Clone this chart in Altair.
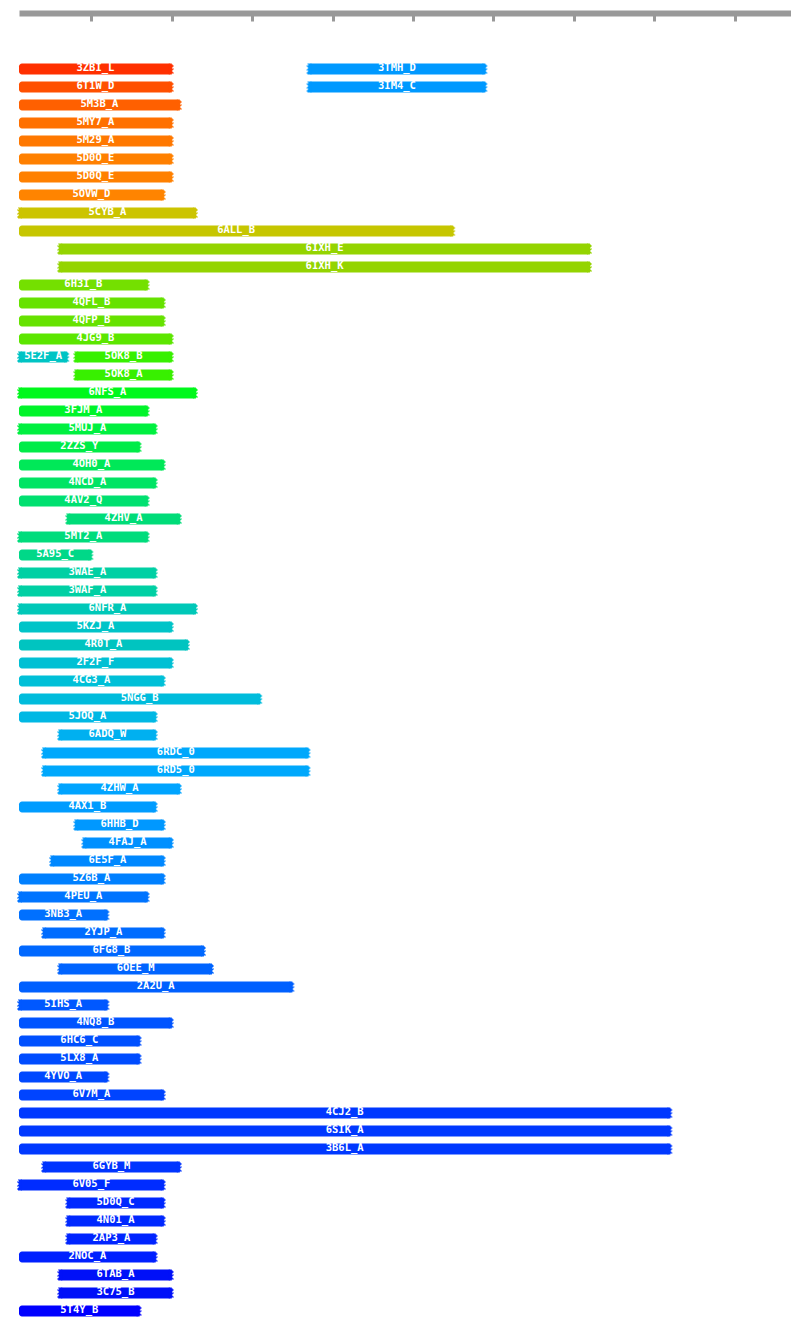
import altair as alt
import pandas as pd

# ---- data ----
LABELS = [
    "3ZBI_L", "3TMH_D", "6T1W_D", "3IM4_C", "5M3B_A", "5MY7_A", "5M29_A", "5D0O_E", "5D0Q_E",
    "5OVW_D", "5CYB_A", "6ALL_B", "6IXH_E", "6IXH_K", "6H3I_B", "4QFL_B", "4QFP_B", "4JG9_B",
    "5E2F_A", "5OK8_B", "5OK8_A", "6NFS_A", "3FJM_A", "5MUJ_A", "2ZZS_Y", "4OH0_A", "4NCD_A",
    "4AV2_Q", "4ZHV_A", "5MT2_A", "5A95_C", "3WAE_A", "3WAF_A", "6NFR_A", "5KZJ_A", "4R0T_A",
    "2F2F_F", "4CG3_A", "5NGG_B", "5JOQ_A", "6ADQ_W", "6RDC_0", "6RD5_0", "4ZHW_A", "4AX1_B",
    "6HHB_D", "4FAJ_A", "6E5F_A", "5Z6B_A", "4PEU_A", "3NB3_A", "2YJP_A", "6FG8_B", "6OEE_M",
    "2A2U_A", "5IHS_A", "4NQ8_B", "6HC6_C", "5LX8_A", "4YVO_A", "6V7M_A", "4CJ2_B", "6SIK_A",
    "3B6L_A", "6GYB_M", "6V05_F", "5D0Q_C", "4N01_A", "2AP3_A", "2NOC_A", "6TAB_A", "3C75_B",
    "5T4Y_B",
]
ROWS = [
    1, 1, 2, 2, 3, 4, 5, 6, 7,
    8, 9, 10, 11, 12, 13, 14, 15, 16,
    17, 17, 18, 19, 20, 21, 22, 23, 24,
    25, 26, 27, 28, 29, 30, 31, 32, 33,
    34, 35, 36, 37, 38, 39, 40, 41, 42,
    43, 44, 45, 46, 47, 48, 49, 50, 51,
    52, 53, 54, 55, 56, 57, 58, 59, 60,
    61, 62, 63, 64, 65, 66, 67, 68, 69,
    70,
]
STARTS = [
    10, 370, 10, 370, 10, 10, 10, 10, 10,
    10, 10, 10, 60, 60, 10, 10, 10, 10,
    10, 80, 80, 10, 10, 10, 10, 10, 10,
    10, 70, 10, 10, 10, 10, 10, 10, 10,
    10, 10, 10, 10, 60, 40, 40, 60, 10,
    80, 90, 50, 10, 10, 10, 40, 10, 60,
    10, 10, 10, 10, 10, 10, 10, 10, 10,
    10, 40, 10, 70, 70, 70, 10, 60, 60,
    10,
]
ENDS = [
    200, 590, 200, 590, 210, 200, 200, 200, 200,
    190, 230, 550, 720, 720, 170, 190, 190, 200,
    70, 200, 200, 230, 170, 180, 160, 190, 180,
    170, 210, 170, 100, 180, 180, 230, 200, 220,
    200, 190, 310, 180, 180, 370, 370, 210, 180,
    190, 200, 190, 190, 170, 120, 190, 240, 250,
    350, 120, 200, 160, 160, 120, 190, 820, 820,
    820, 210, 190, 190, 190, 180, 180, 200, 200,
    160,
]
# 1 = torn (partial) left edge, 0 = rounded full N-terminus
LEFT_TORN = [
    0, 1, 0, 1, 0, 0, 0, 0, 0,
    0, 1, 0, 1, 1, 0, 0, 0, 0,
    1, 1, 1, 1, 0, 1, 0, 0, 0,
    0, 1, 1, 0, 1, 1, 1, 0, 0,
    0, 0, 0, 0, 1, 1, 1, 1, 0,
    1, 1, 1, 0, 1, 0, 1, 0, 1,
    0, 1, 0, 0, 0, 0, 0, 0, 0,
    0, 1, 1, 1, 1, 1, 0, 1, 1,
    0,
]
COLORS = [
    "#ff3000", "#0099ff", "#ff5000", "#0099ff", "#ff6000", "#ff7000", "#ff7800", "#ff8000", "#ff8000",
    "#ff8400", "#ccc400", "#c6c600", "#94d400", "#94d400", "#74e000", "#66e200", "#66e200", "#5ce600",
    "#00c4c4", "#38f000", "#38f000", "#00f81c", "#00f42a", "#00f040", "#00ec48", "#00e858", "#00e464",
    "#00e070", "#00dc78", "#00dc7c", "#00d888", "#00d0a4", "#00d0a4", "#00c8b8", "#00c4c8", "#00c4c0",
    "#00c0d4", "#00c0d8", "#00bcdc", "#00b8e4", "#00b0f0", "#00a8fc", "#00a8fc", "#00a4ff", "#009cff",
    "#0098ff", "#0090ff", "#0088ff", "#0080ff", "#0074ff", "#0070ff", "#006cff", "#0068ff", "#0064ff",
    "#0060ff", "#0058ff", "#0054ff", "#0050ff", "#004cff", "#0048ff", "#0044ff", "#0038ff", "#0038ff",
    "#0038ff", "#0034ff", "#002cff", "#0028ff", "#0028ff", "#0024ff", "#0020ff", "#0010f8", "#0010f8",
    "#0000ff",
]
TICKS = [100, 200, 300, 400, 500, 600, 700, 800, 900]
X_DOMAIN = [10, 970]

df = pd.DataFrame({
    "label": LABELS, "row": ROWS, "start": STARTS, "end": ENDS, "torn": LEFT_TORN,
})
df["mid"] = (df["start"] + df["end"]) / 2


def comb_path(ext, sign):
    """Torn-edge glyph in the -1..1 box (11px tall at size 121)."""
    u = 5.5
    pts = [(-3 * sign, -5.5)]
    for i, e in enumerate(ext):
        y0 = -5.5 + i
        pts += [(sign * e, y0), (sign * e, y0 + 1)]
    pts.append((-3 * sign, 5.5))
    return "M" + " L".join(f"{x / u:.3f},{y / u:.3f}" for x, y in pts) + " Z"


RIGHT_EDGE = comb_path([0, 1, 2, 1, 0, 2, 1, 0, 1, 2, 0], 1)
LEFT_EDGE = comb_path([1, 0, 2, 1, 0, 1, 2, 0, 1, 2, 1], -1)

xscale = alt.Scale(domain=X_DOMAIN, nice=False, zero=False)
yenc = alt.Y("row:O", axis=None, scale=alt.Scale(paddingInner=0.39, paddingOuter=0.195))
cenc = alt.Color("label:N", scale=alt.Scale(domain=LABELS, range=COLORS), legend=None)

ticks_df = pd.DataFrame({"t": TICKS})
top = alt.Chart(ticks_df).mark_rule(opacity=0).encode(
    x=alt.X("t:Q", scale=xscale, axis=alt.Axis(
        orient="bottom", values=TICKS, labels=False, title=None, grid=False,
        domainWidth=6, domainColor="#999999", tickColor="#999999",
        tickWidth=3, tickSize=8))
).properties(width=772, height=3)

base = alt.Chart(df)
bars = base.mark_bar(cornerRadius=3).encode(
    x=alt.X("start:Q", scale=xscale, axis=None), x2="end:Q", y=yenc, color=cenc)
right_edges = base.mark_point(shape=RIGHT_EDGE, filled=True, size=121, opacity=1,
                              strokeWidth=0).encode(
    x=alt.X("end:Q", scale=xscale, axis=None), y=yenc, color=cenc)
left_edges = base.transform_filter("datum.torn == 1").mark_point(
    shape=LEFT_EDGE, filled=True, size=121, opacity=1, strokeWidth=0).encode(
    x=alt.X("start:Q", scale=xscale, axis=None), y=yenc, color=cenc)
labels = base.mark_text(color="white", font="DejaVu Sans Mono", fontWeight="bold",
                        fontSize=10.5, baseline="alphabetic", dy=2).encode(
    x=alt.X("mid:Q", scale=xscale, axis=None), y=yenc, text="label:N")

bottom = alt.layer(bars, right_edges, left_edges, labels).properties(width=772, height=1260)

chart = alt.vconcat(top, bottom, spacing=37).resolve_scale(x="shared").properties(
    padding={"left": 8, "top": 2, "right": 0, "bottom": 0}
).configure_view(stroke=None)

chart.save("out.html", embed_options={"renderer": "svg", "actions": False})
